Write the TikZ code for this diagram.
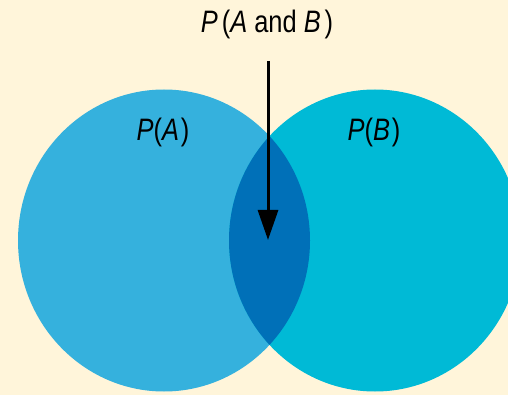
\documentclass[tikz,border=0pt]{standalone}
\usepackage{fontspec}
\setmainfont{Liberation Sans}[FakeStretch=0.82]
\usepackage{xcolor}
\usepackage{tikz}
\usetikzlibrary{arrows.meta,positioning}
\definecolor{vennbg}{HTML}{FFF5DA}
\definecolor{setablue}{HTML}{35B1DD}
\definecolor{setbcyan}{HTML}{00BAD6}
\definecolor{overlapblue}{HTML}{0070B8}

\begin{document}
\begin{tikzpicture}[x=1pt, y=-1pt,
    set_a/.style={fill=setablue},
    set_b/.style={fill=setbcyan},
    overlap/.style={fill=overlapblue},
    prob_lbl/.style={font=\fontsize{31}{36}\selectfont, inner sep=0pt, text=black},
    pointer/.style={-{Triangle[width=20pt, length=30pt]}, line width=3pt, draw=black}
]
    % Canvas
    \useasboundingbox (0,0) rectangle (508,395);
    \fill[vennbg] (0,0) rectangle (508,395);

    % Set centres
    \coordinate (ca) at (164,240.5);
    \coordinate (cb) at (375,240.5);

    \begin{scope}
        \clip (0,0) rectangle (508,395);
        % Set A and set B
        \fill[set_a] (ca) ellipse [x radius=146pt, y radius=151pt];
        \fill[set_b] (cb) ellipse [x radius=146pt, y radius=151pt];
        % Overlap A and B
        \begin{scope}
            \clip (ca) ellipse [x radius=146pt, y radius=151pt];
            \fill[overlap] (cb) ellipse [x radius=146pt, y radius=151pt];
        \end{scope}
    \end{scope}

    % Labels
    \node[prob_lbl] (pa) at (163,132) {\textit{P}(\textit{A}\kern2pt)};
    \node[prob_lbl] (pb) at (374,132) {\textit{P}(\textit{B}\kern2pt)};
    \node[prob_lbl] (pab) at (267,24) {\textit{P}\kern4pt(\textit{A} and \textit{B}\kern4pt)};

    % Pointer into the overlap
    \coordinate (lens) at (268,240);
    \draw[pointer] (lens |- 0,61) -- (lens);
\end{tikzpicture}
\end{document}
